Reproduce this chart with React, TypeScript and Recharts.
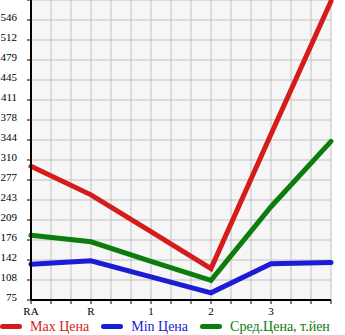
import React from 'react';
import { LineChart, Line, XAxis, YAxis, CartesianGrid, Legend } from 'recharts';

const categories = ['RA', 'R', '1', '2', '3', ''];
const maxPrice = [300, 252, 190, 128, 354, 578];
const minPrice = [135, 141, 114, 87, 136, 138];
const avgPrice = [184, 173, 140, 108, 232, 342];

const yTicks = [75, 108.67, 142.33, 176, 209.67, 243.33, 277, 310.67, 344.33, 378, 411.67, 445.33, 479, 512.67, 546.33, 580];
const yTickLabels = ['75', '108', '142', '176', '209', '243', '277', '310', '344', '378', '411', '445', '479', '512', '546', ''];

// minor ticks: three per category step
const xTicks = Array.from({ length: 16 }, (_, i) => i / 3);

const series = [
  { key: 'max', name: 'Max Цена', color: '#d41c1c' },
  { key: 'min', name: 'Min Цена', color: '#1c1cd4' },
  { key: 'avg', name: 'Сред.Цена, т.йен', color: '#0c7c0c' },
];

const data = categories.map((c, i) => ({
  x: i,
  max: maxPrice[i],
  min: minPrice[i],
  avg: avgPrice[i],
}));

const FONT = '"Liberation Serif", "DejaVu Serif", serif';

const renderLegend = () => (
  <div style={{ display: 'flex', alignItems: 'center', height: 17, width: 345, whiteSpace: 'nowrap', fontFamily: FONT, fontSize: 14 }}>
    {series.map(s => (
      <div key={s.key} style={{ display: 'flex', alignItems: 'center', flexShrink: 0, marginRight: 12 }}>
        <div style={{ width: 22, height: 5, borderRadius: 3, background: s.color, marginRight: 8, flexShrink: 0 }} />
        <span style={{ color: s.color }}>{s.name}</span>
      </div>
    ))}
  </div>
);

export default function App() {
  return (
    <div style={{ position: 'absolute', left: 0, top: 0, width: 345, height: 335, background: '#fff' }}>
      <style>{'body{margin:0}'}</style>
      <LineChart width={345} height={335} data={data} margin={{ top: 0, right: 14, bottom: 0, left: 0 }}>
        <CartesianGrid stroke="#c0c0c0" strokeWidth={1} fill="#f6f6f6" />
        <XAxis
          type="number"
          dataKey="x"
          domain={[0, 5]}
          ticks={xTicks}
          interval={0}
          height={18}
          tickSize={4}
          tickMargin={3}
          axisLine={{ stroke: '#000', strokeWidth: 2 }}
          tickLine={{ stroke: '#000' }}
          tick={{ fill: '#000', fontSize: 11, fontFamily: FONT }}
          tickFormatter={(v: number) => {
            const i = Math.round(v);
            return Math.abs(v - i) < 0.01 ? categories[i] : '';
          }}
        />
        <YAxis
          type="number"
          domain={[75, 580]}
          ticks={yTicks}
          interval={0}
          width={31}
          tickSize={4}
          tickMargin={10}
          axisLine={{ stroke: '#000', strokeWidth: 2 }}
          tickLine={{ stroke: '#000' }}
          tick={{ fill: '#000', fontSize: 11, fontFamily: FONT, dy: -3 }}
          tickFormatter={(v: number) => yTickLabels[yTicks.indexOf(v)] ?? ''}
        />
        <Legend
          verticalAlign="bottom"
          align="left"
          content={renderLegend}
          wrapperStyle={{ height: 17, width: 345, left: 0 }}
        />
        {series.map(s => (
          <Line
            key={s.key}
            type="linear"
            dataKey={s.key}
            name={s.name}
            stroke={s.color}
            strokeWidth={5}
            strokeLinecap="round"
            dot={false}
            activeDot={false}
            isAnimationActive={false}
          />
        ))}
      </LineChart>
    </div>
  );
}
